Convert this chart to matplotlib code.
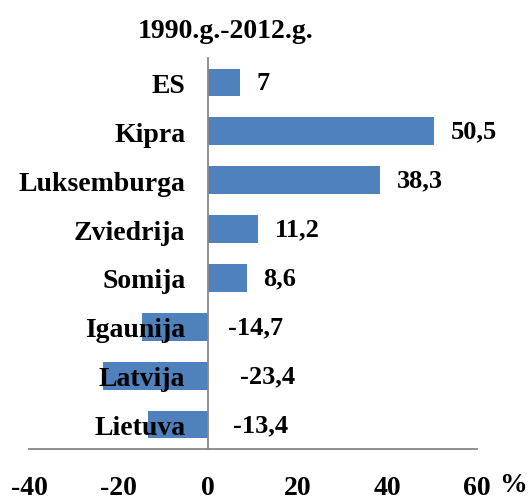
import matplotlib
matplotlib.use("Agg")
import matplotlib.pyplot as plt

categories = ["ES", "Kipra", "Luksemburga", "Zviedrija", "Somija", "Igaunija", "Latvija", "Lietuva"]
values = [7, 50.5, 38.3, 11.2, 8.6, -14.7, -23.4, -13.4]
xticks = [-40, -20, 0, 20, 40, 60]
title = "1990.g.-2012.g."
# label offsets (points) from bar end / zero line
label_dx = [12, 12, 12, 12, 12, 14, 23, 17.5]

plt.rcParams['font.family'] = ['Liberation Serif', 'DejaVu Serif']
plt.rcParams['font.weight'] = 'bold'
FS = 20
VFS = 19

fig = plt.figure(figsize=(5.29, 5.02), dpi=100)
ax = fig.add_axes([29/529, 1-450/502, 448/529, 391/502])

ypos = list(range(len(categories)))
ax.barh(ypos, values, height=0.57, color='#4F81BD', zorder=1)
ax.set_xlim(-40, 60)
ax.set_ylim(len(categories)-0.5, -0.5)

grey = '#878787'
for s in ['top', 'right']:
    ax.spines[s].set_visible(False)
ax.spines['left'].set_position(('data', 0))
ax.spines['left'].set_color(grey)
ax.spines['left'].set_linewidth(1.3)
ax.spines['bottom'].set_color(grey)
ax.spines['bottom'].set_linewidth(1.3)

ax.set_yticks(ypos)
ax.set_yticklabels(categories, fontsize=FS, fontweight='bold')
ax.tick_params(axis='y', length=0, pad=16.5)
ax.set_xticks(xticks)
ax.set_xticklabels([str(t) for t in xticks], fontsize=FS, fontweight='bold')
ax.tick_params(axis='x', length=0, pad=19)
for lab in ax.get_yticklabels():
    lab.set_zorder(5)

for y, v, dx in zip(ypos, values, label_dx):
    txt = f"{v:g}".replace('.', ',')
    x0 = v if v >= 0 else 0
    ax.annotate(txt, (x0, y), xytext=(dx, 0), textcoords='offset points',
                ha='left', va='center', fontsize=VFS, fontweight='bold')

fig.text(513/529, 1-492/502, "%", fontsize=FS, fontweight='bold', ha='center', va='baseline')
fig.text(226/529, 1-38/502, title, fontsize=FS, fontweight='bold', ha='center', va='baseline')

fig.savefig("out.png", dpi=100)
